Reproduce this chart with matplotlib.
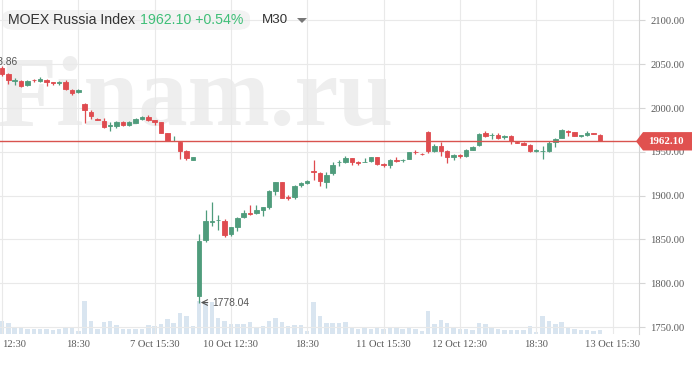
import matplotlib
matplotlib.use("Agg")
import matplotlib.pyplot as plt
from matplotlib.patches import Polygon, FancyBboxPatch
import numpy as np

# ---------------- data (M30 candles, MOEX Russia Index) ----------------
opens = [2046, 2038.6, 2031, 2031, 2026, 2032.5, 2031, 2032.2, 2029.5, 2029,
         2029.5, 2021, 2018.2, 2005, 1995.5, 1988, 1985.5, 1979.5, 1979, 1984.5,
         1980.6, 1983.3, 1987.5, 1989.8, 1986, 1984, 1971.6, 1962.8, 1961.4, 1951,
         1941, 1785, 1849, 1870, 1872, 1871.6, 1856.4, 1864.8, 1875.8, 1880.7,
         1880.7, 1883.7, 1886.7, 1905.3, 1915.2, 1898, 1898, 1911.7, 1914, 1928.5,
         1926, 1915.5, 1926, 1938, 1938.3, 1942.8, 1938, 1938.5, 1939.4, 1943.6,
         1935.8, 1934.5, 1940.5, 1940.5, 1942, 1950.4, 1948, 1972.3, 1950.8, 1957.2,
         1951.5, 1943.6, 1946.2, 1945, 1952.7, 1957.6, 1971.7, 1968.8, 1969.8, 1966.7,
         1968.6, 1961.3, 1960.6, 1958.4, 1951.3, 1950.5, 1950.8, 1961, 1966, 1974.3,
         1972.4, 1968.4, 1969.4, 1971.3, 1969.8]
highs = [2048, 2039.5, 2034, 2031.5, 2032, 2033.5, 2035, 2033, 2030, 2030.5,
         2032.6, 2021.5, 2022, 2006, 1998, 1988.5, 1988.5, 1984, 1985.5, 1985.5,
         1984.8, 1989, 1990.5, 1991.7, 1986.5, 1984.5, 1972, 1968, 1962, 1952.6,
         1944, 1856.5, 1883.7, 1893.2, 1878, 1873.5, 1864.8, 1876, 1883.7, 1889,
         1889, 1887.5, 1906, 1916, 1916, 1900.8, 1912, 1916, 1917.5, 1941.3,
         1927, 1927, 1938.3, 1941.3, 1945.8, 1943, 1940, 1942.8, 1944, 1944,
         1937.5, 1942, 1944.3, 1942, 1950, 1952, 1948.2, 1974, 1959, 1961,
         1952, 1947.5, 1947.3, 1953.5, 1956.5, 1971, 1974.3, 1971, 1971, 1969.8,
         1969, 1962.2, 1961, 1959, 1953.4, 1956.5, 1962.2, 1966, 1976.6, 1975.5,
         1973.2, 1969.8, 1973.5, 1971.7, 1970.5]
lows = [2037, 2027, 2026.5, 2024, 2025.5, 2029.5, 2030, 2025, 2026.5, 2026.5,
        2021, 2015, 2017.5, 1983, 1987.5, 1986, 1977, 1973.5, 1977, 1980,
        1979.9, 1982.5, 1986, 1985.6, 1981, 1971, 1962, 1962, 1942.4, 1940.5,
        1940.5, 1778.04, 1846.6, 1865.5, 1861, 1852.7, 1854.2, 1860, 1874.2, 1878,
        1879.2, 1877, 1884.5, 1900.5, 1897, 1895, 1896.6, 1910, 1913.5, 1917.8,
        1911, 1909, 1923.9, 1933.7, 1937.5, 1935.6, 1934.5, 1938, 1939, 1935.5,
        1933.3, 1931.4, 1939, 1939, 1941.5, 1948, 1947, 1948.5, 1950, 1945,
        1937.2, 1941, 1943, 1944, 1952, 1956.4, 1967.5, 1964.8, 1964.4, 1965.2,
        1959.5, 1960, 1957.5, 1950.4, 1950.4, 1942, 1950, 1955.3, 1965.5, 1967.9,
        1967.9, 1967, 1968.6, 1970, 1962]
closes = [2039, 2031.8, 2032, 2025.5, 2031, 2031.5, 2033, 2030.3, 2029, 2029.6,
          2021.6, 2017, 2021.2, 1997.5, 1991.5, 1986.5, 1978.5, 1980.5, 1984.5, 1980.8,
          1983.7, 1987, 1989.4, 1986, 1983.7, 1971.6, 1962.5, 1963, 1951, 1942.5,
          1943.6, 1848.5, 1871.6, 1871, 1872.5, 1855.3, 1864, 1874.2, 1880.7, 1879.2,
          1883.7, 1886.7, 1905.3, 1915.2, 1897.7, 1897.5, 1911, 1914.8, 1916.7, 1927.5,
          1916.7, 1923.9, 1935.2, 1938.8, 1942.8, 1938.3, 1937.3, 1939, 1943.6, 1936,
          1935.2, 1940.2, 1939.8, 1941, 1949.6, 1949.7, 1947.5, 1950.8, 1957.2, 1951.5,
          1944, 1947, 1945.5, 1952.7, 1955.7, 1970.9, 1967.9, 1969.6, 1966, 1968.6,
          1963, 1960.7, 1958, 1951.5, 1951.7, 1951, 1960.3, 1964.8, 1974.7, 1972.8,
          1968.6, 1968.8, 1971.7, 1970.8, 1962.1]
volumes = [12.7, 10.7, 6.7, 6.7, 5.3, 4.7, 4.7, 4.7, 4, 5.3,
           7.3, 7.3, 2.7, 32.7, 12.7, 5.3, 12, 12.7, 9.3, 5.3,
           5.3, 5.3, 5.3, 8.7, 7.7, 10, 15, 11, 21, 17.7,
           7.7, 33, 32, 31.7, 15.7, 13.3, 10, 10, 10, 12.3,
           6.7, 8.3, 13.3, 15.7, 12.3, 8.3, 9, 9, 3.3, 32.3,
           18, 10.7, 10.7, 10.7, 11.7, 6.7, 5, 7.3, 5, 7.3,
           5, 6, 7.3, 5, 7.3, 5, 2.7, 22.7, 10, 14,
           10.7, 6, 5, 5, 4, 11, 10, 5.7, 5, 4,
           4, 4, 4, 7.7, 2.3, 17.7, 13, 9.7, 11.7, 7,
           5, 4, 4, 3, 4]

tick_idx = [0, 12, 24, 36, 48, 60, 72, 84, 96]
tick_labels = ["12:30", "18:30", "7 Oct 15:30", "10 Oct 12:30", "18:30",
               "11 Oct 15:30", "12 Oct 12:30", "18:30", "13 Oct 15:30"]
price_ticks = [1750, 1800, 1850, 1900, 1950, 2000, 2050, 2100]
last_price = 1962.10
low_price = 1778.04
low_idx = 31
high_label = "2053.86"

title_name = "MOEX Russia Index"
title_change = "1962.10 +0.54%"
timeframe = "M30"

# ---------------- style ----------------
RED = "#df4b4f"
GREEN = "#4f9c7c"
LINE_RED = "#d9534f"
GRID = "#e9e9e9"
TXT = "#5a5a5a"
VOL = "#d9e5f0"
SERIF = ["Liberation Serif", "DejaVu Serif"]
SANS = ["Liberation Sans", "DejaVu Sans"]

W, H = 692, 369
fig = plt.figure(figsize=(W / 100, H / 100), dpi=100, facecolor="white")

def fx(x):
    return x / W

def fy(y):
    return 1 - y / H

rect = [0, fy(334), fx(639), 334 / H]
x = np.arange(len(opens))
xlim = (-0.315, 100.16)
ylim = (1742.1, 2123.4)

# watermark
fig.text(fx(-4), fy(125), "Finam.ru", fontsize=71, color="#eeeeee",
         family=SERIF, weight="bold", zorder=-5, ha="left", va="baseline")

# volume axes (behind)
vax = fig.add_axes(rect)
vax.patch.set_visible(False)
vax.bar(x, volumes, width=0.7, color=VOL, zorder=1)
vax.set_xlim(*xlim)
vax.set_ylim(0, 334)
vax.axis("off")

# main axes
ax = fig.add_axes(rect)
ax.patch.set_visible(False)
ax.set_zorder(vax.get_zorder() + 1)
ax.set_xlim(*xlim)
ax.set_ylim(*ylim)

o = np.array(opens); c = np.array(closes)
hi = np.array(highs); lo = np.array(lows)
cols = np.where(c >= o, GREEN, RED)
ax.vlines(x, lo, hi, colors=cols, lw=0.9, zorder=3)
ax.bar(x, np.abs(c - o), bottom=np.minimum(o, c), width=0.7, color=cols,
       edgecolor=cols, linewidth=0.6, zorder=4)

ax.axhline(last_price, color=LINE_RED, lw=1.0, zorder=5)

ax.set_xticks(tick_idx)
ax.set_xticklabels(tick_labels)
ax.set_yticks(price_ticks)
ax.set_yticklabels([f"{p:.2f}" for p in price_ticks])
ax.yaxis.tick_right()
ax.grid(True, color=GRID, lw=0.8, zorder=0)
ax.set_axisbelow(True)
ax.tick_params(axis="x", length=0, pad=4, labelsize=7.6, labelcolor=TXT)
ax.tick_params(axis="y", length=4, color="#d5d5d5", width=0.8, pad=4,
               labelsize=7.6, labelcolor=TXT)
for lab in ax.get_xticklabels() + ax.get_yticklabels():
    lab.set_family(SERIF)
ax.get_xticklabels()[0].set_horizontalalignment("left")
for s in ["top", "left", "bottom"]:
    ax.spines[s].set_visible(False)
ax.spines["right"].set_color("#d5d5d5")
ax.spines["right"].set_linewidth(0.8)

# current price tag
tr = matplotlib.transforms.blended_transform_factory(ax.transAxes, ax.transData)
hh = 10.5
tag = Polygon([[636 / 639, last_price], [643 / 639, last_price + hh],
               [695 / 639, last_price + hh], [695 / 639, last_price - hh],
               [643 / 639, last_price - hh]], closed=True, transform=tr,
              facecolor="#e0514f", edgecolor="none", clip_on=False, zorder=10)
ax.add_patch(tag)
ax.text(666 / 639, last_price, f"{last_price:.2f}", transform=tr, color="white",
        fontsize=7.8, weight="bold", family=SERIF, ha="center", va="center",
        zorder=11, clip_on=False)

# low annotation
ax.annotate("", xy=(low_idx + 0.25, low_price), xytext=(low_idx + 1.35, low_price),
            arrowprops=dict(arrowstyle="->", color="#555555", lw=0.8,
                            shrinkA=0, shrinkB=0), zorder=6)
ax.text(low_idx + 2.05, low_price, f"{low_price:.2f}", color="#555555",
        fontsize=7.4, family=SANS, ha="left", va="center", zorder=6)

# high label (partially outside the figure)
fig.text(fx(18), fy(62), high_label, color="#555555", fontsize=7.4,
         family=SANS, ha="right", va="center")

# title pill
pill = FancyBboxPatch((fx(2), fy(30)), fx(248), 20 / H,
                      boxstyle="round,pad=0,rounding_size=0.02",
                      transform=fig.transFigure, facecolor="#f3f3f3",
                      edgecolor="none", zorder=1)
fig.add_artist(pill)
fig.text(fx(8), fy(20), title_name, color="#333333", fontsize=10.2,
         family=SANS, ha="left", va="center", zorder=2)
fig.text(fx(140), fy(20), title_change, color="#3fbf78", fontsize=10.2,
         family=SANS, ha="left", va="center", zorder=2)
fig.text(fx(262), fy(20), timeframe, color="#333333", fontsize=9.6,
         family=SANS, ha="left", va="center", zorder=2)
tri = Polygon([[fx(297), fy(18)], [fx(307), fy(18)], [fx(302), fy(23)]],
              closed=True, transform=fig.transFigure, facecolor="#777777",
              edgecolor="none", zorder=2)
fig.add_artist(tri)

fig.savefig("out.png", dpi=100, facecolor="white")
